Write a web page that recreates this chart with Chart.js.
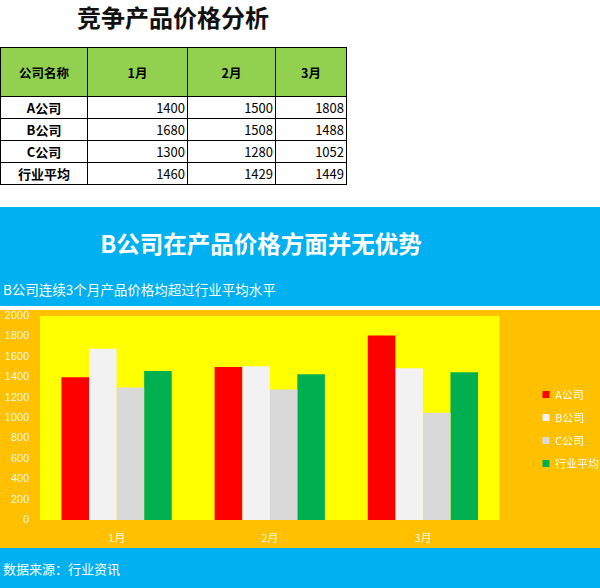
<!DOCTYPE html>
<html lang="zh">
  <head>
    <meta charset="utf-8">
    <title>竞争产品价格分析</title>
    <script src="https://cdn.jsdelivr.net/npm/chart.js@4.4.0/dist/chart.umd.min.js"></script>
    <style>
      body { margin: 0; width: 600px; height: 588px; position: relative; background: #fff;
             font-family: "Noto Sans CJK SC", "Noto Sans", sans-serif; overflow: hidden; }
      #title { position: absolute; left: 0; width: 346px; top: 0; text-align: center;
               font-size: 24px; font-weight: bold; line-height: 34px; color: #111; }
      table { position: absolute; left: 0; top: 47px; border-collapse: collapse; }
      td, th { border: 1px solid #000; font-size: 13px; padding: 0 2px; height: 21px; line-height: 21px; }
      th { background: #92D050; height: 48px; font-size: 12.5px; }
      td.num { text-align: right; }
      td.name { text-align: center; font-weight: bold; }
      #banner { position: absolute; left: 0; top: 207px; width: 600px; height: 99px; background: #00B0F0; color: #fff; }
      #banner h1 { margin: 0; position: absolute; left: 0; width: 522px; top: 18px; text-align: center;
                   font-size: 23.5px; line-height: 36px; }
      #banner p { margin: 0; position: absolute; left: 3px; top: 73px; font-size: 13.5px; line-height: 18px; }
      #box { position: absolute; left: 0; top: 310px; width: 600px; height: 238px; background: #FFC000; }
      #foot { position: absolute; left: 0; top: 548px; width: 600px; height: 40px; background: #00B0F0;
              color: #fff; font-size: 13px; }
      #foot span { position: absolute; left: 3px; top: 11px; }
    </style>
  </head>
  <body>
    <div id="title">竞争产品价格分析</div>
    <table id="tbl"></table>
    <div id="banner">
      <h1>B公司在产品价格方面并无优势</h1>
      <p>B公司连续3个月产品价格均超过行业平均水平</p>
    </div>
    <div id="box"><canvas id="chart"></canvas></div>
    <div id="foot"><span>数据来源：行业资讯</span></div>
    <script>
      const months = ['1月', '2月', '3月'];
      const companies = ['A公司', 'B公司', 'C公司', '行业平均'];
      const priceA = [1400, 1500, 1808];
      const priceB = [1680, 1508, 1488];
      const priceC = [1300, 1280, 1052];
      const priceAvg = [1460, 1429, 1449];
      const yTicks = [0, 200, 400, 600, 800, 1000, 1200, 1400, 1600, 1800, 2000];

      const series = [priceA, priceB, priceC, priceAvg];
      const colors = ['#FF0000', '#F2F2F2', '#D9D9D9', '#00B050'];
      const colWidths = [87, 100, 88, 71];

      // table above the chart
      const tbl = document.getElementById('tbl');
      let html = '<tr><th style="width:' + (colWidths[0] - 5) + 'px">公司名称</th>';
      months.forEach((m, i) => { html += '<th style="width:' + (colWidths[i + 1] - 5) + 'px">' + m + '</th>'; });
      html += '</tr>';
      companies.forEach((c, r) => {
        html += '<tr><td class="name">' + c + '</td>';
        series[r].forEach(v => { html += '<td class="num">' + v + '</td>'; });
        html += '</tr>';
      });
      tbl.innerHTML = html;

      const plotBg = {
        id: 'plotBg',
        beforeDraw(chart) {
          const a = chart.chartArea;
          chart.ctx.save();
          chart.ctx.fillStyle = '#FFFF00';
          chart.ctx.fillRect(a.left, a.top, a.right - a.left, a.bottom - a.top);
          chart.ctx.restore();
        }
      };
      const legendShift = {
        id: 'legendShift',
        afterLayout(chart) {
          chart.legend.left += 31;
          chart.legend.right += 31;
        }
      };

      const ctx = document.getElementById('chart').getContext('2d');
      new Chart(ctx, {
        type: 'bar',
        data: {
          labels: months,
          datasets: companies.map((c, i) => ({
            label: c,
            data: series[i],
            backgroundColor: colors[i],
            borderWidth: 0,
            categoryPercentage: 0.72,
            barPercentage: 1.0
          }))
        },
        options: {
          responsive: true,
          maintainAspectRatio: false,
          animation: false,
          layout: { padding: { top: 0, right: 22, left: 0, bottom: 0 } },
          plugins: {
            title: { display: false },
            tooltip: { enabled: false },
            legend: {
              position: 'right',
              labels: {
                color: '#FFFFFF',
                boxWidth: 7,
                boxHeight: 7,
                padding: 12,
                font: { size: 11, family: '"Noto Sans CJK SC", sans-serif' }
              }
            }
          },
          scales: {
            x: {
              grid: { display: false, drawTicks: false },
              border: { display: false },
              ticks: { color: '#FFF8E8', padding: 11, font: { size: 11, family: '"Noto Sans CJK SC", sans-serif' } },
              afterFit(scale) { scale.height = 28; }
            },
            y: {
              min: 0,
              max: 2000,
              grid: { display: false, drawTicks: false },
              border: { display: false },
              afterBuildTicks(scale) { scale.ticks = yTicks.map(v => ({ value: v })); },
              ticks: {
                color: '#FFF8E8',
                padding: 11,
                font: { size: 11, family: '"Liberation Sans", sans-serif' },
                callback: v => String(v)
              },
              afterFit(scale) {
                scale.width = 40;
                scale.paddingTop = 6;
                scale.paddingBottom = 6;
              }
            }
          }
        },
        plugins: [plotBg, legendShift]
      });
    </script>
  </body>
</html>
